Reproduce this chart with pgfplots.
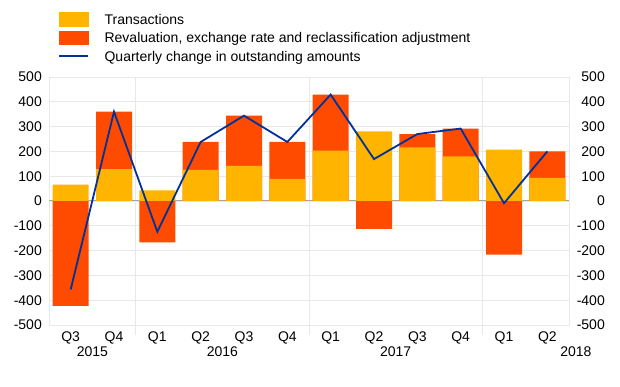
\documentclass[border=0pt]{standalone}
\usepackage{fontspec}
\setmainfont{Liberation Sans}
\usepackage{pgfplots}
\usepackage{pgfplotstable}
\pgfplotsset{compat=1.18}
\definecolor{ecbyellow}{RGB}{255,180,0}
\definecolor{ecborange}{RGB}{255,75,0}
\definecolor{ecbblue}{RGB}{0,50,153}
\definecolor{gridgray}{RGB}{232,232,232}
\definecolor{zerogray}{RGB}{165,165,165}
\pgfplotstableread{
x trans reval total
0 66 -423 -357
1 128 232 360
2 43 -167 -124
3 125 113 238
4 142 202 344
5 89 149 238
6 203 226 429
7 281 -112 169
8 216 54 270
9 180 112 292
10 207 -216 -9
11 93 107 200
}\data
\begin{document}
\begin{tikzpicture}[font=\fontsize{14}{16.8}\selectfont]
\begin{axis}[
  scale only axis, width=520pt, height=248pt,
  at={(49pt,62pt)}, anchor=south west,
  xmin=-0.5, xmax=11.5, ymin=-500, ymax=500,
  ytick={-500,-400,...,500},
  xtick={0,...,11},
  xticklabels={Q3,Q4,Q1,Q2,Q3,Q4,Q1,Q2,Q3,Q4,Q1,Q2},
  major tick length=0pt,
  ymajorgrids, grid style={gridgray, line width=0.8pt},
  axis line style={gridgray, line width=0.8pt},
  extra x ticks={1.5,5.5,9.5}, extra x tick labels={},
  extra x tick style={grid=major, major grid style={gridgray,line width=0.8pt}, tick align=outside, major tick length=10pt, tick style={gridgray, line width=0.8pt}},
  extra y ticks={0}, extra y tick labels={},
  extra y tick style={grid=major, major grid style={zerogray,line width=1pt}},
  ytick pos=left, xtick pos=bottom,
  /pgf/number format/assume math mode=true,
  yticklabel style={anchor=east, inner sep=0pt, xshift=-7pt},
  xticklabel style={anchor=base, inner sep=0pt, yshift=-16.7pt},
  clip=false,
  legend style={at={(axis description cs:0,1)}, anchor=north west, xshift=9.3pt, yshift=66pt,
    draw=none, fill=none, inner sep=0pt, row sep=2.6pt,
    nodes={inner sep=0pt, anchor=base west},
    /tikz/every odd column/.append style={column sep=15.3pt}},
]
\addplot[ybar, bar width=36pt, bar shift=0pt, fill=ecborange, draw=none, forget plot]
  table[x=x, y expr={(\thisrow{reval}>0) ? (\thisrow{trans}+\thisrow{reval}) : (\thisrow{reval})}] {\data};
\addplot[ybar, bar width=36pt, bar shift=0pt, fill=ecbyellow, draw=none, forget plot]
  table[x=x, y=trans] {\data};
\addplot[ecbblue, line width=1.8pt, forget plot] table[x=x, y=total] {\data};
\addlegendimage{legend image code/.code={\path[draw=none,fill=none] (0pt,-3pt) rectangle (29pt,13pt); \fill[ecbyellow] (0pt,-1.7pt) rectangle (29pt,11.7pt);}}
\addlegendentry{Transactions}
\addlegendimage{legend image code/.code={\path[draw=none,fill=none] (0pt,-3pt) rectangle (29pt,13pt); \fill[ecborange] (0pt,-1.7pt) rectangle (29pt,11.7pt);}}
\addlegendentry{Revaluation, exchange rate and reclassification adjustment}
\addlegendimage{legend image code/.code={\path[draw=none,fill=none] (0pt,-3pt) rectangle (29pt,13pt); \draw[ecbblue, line width=1.8pt] (0pt,5pt) -- (29pt,5pt);}}
\addlegendentry{Quarterly change in outstanding amounts}
\node[anchor=base, inner sep=0pt, yshift=-31.7pt] at (axis cs:0.5,-500) {2015};
\node[anchor=base, inner sep=0pt, yshift=-31.7pt] at (axis cs:3.5,-500) {2016};
\node[anchor=base, inner sep=0pt, yshift=-31.7pt] at (axis cs:7.5,-500) {2017};
\node[anchor=base, inner sep=0pt, yshift=-31.7pt] at (axis cs:11.66,-500) {2018};
\end{axis}
\begin{axis}[
  scale only axis, width=520pt, height=248pt,
  at={(49pt,62pt)}, anchor=south west,
  xmin=-0.5, xmax=11.5, ymin=-500, ymax=500,
  hide x axis, axis y line*=right, y axis line style={draw=none},
  major tick length=0pt, ytick={-500,-400,...,500},
  /pgf/number format/assume math mode=true,
  yticklabel style={anchor=east, inner sep=0pt, xshift=36pt},
]
\end{axis}
\pgfresetboundingbox
\useasboundingbox (0,0) rectangle (620pt,387pt);
\end{tikzpicture}
\end{document}
